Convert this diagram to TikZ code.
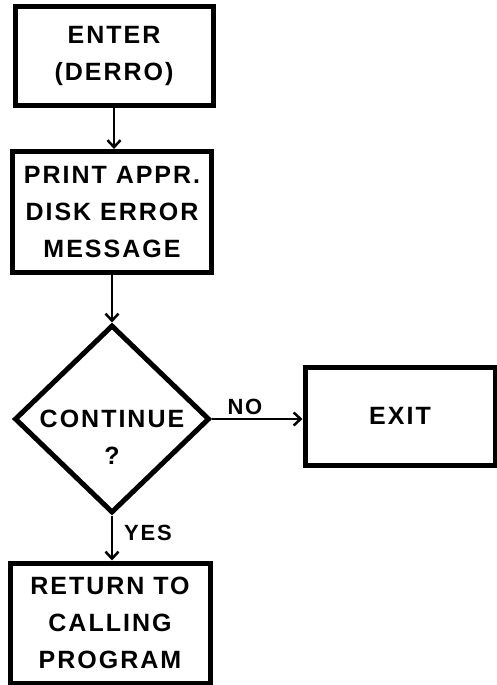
\documentclass[tikz,border=0pt]{standalone}
\usepackage{fontspec}
\setmainfont{Liberation Sans}[LetterSpace=8]
\usetikzlibrary{shapes.geometric,arrows.meta}
\newcommand\boxfont{\fontsize{25}{37}\selectfont\bfseries}
\newcommand\tagfont{\fontsize{22}{25}\selectfont\bfseries}
\begin{document}
\begin{tikzpicture}[x=1pt,y=-1pt,
  box/.style={draw, line width=5pt, inner sep=0pt, align=center, font=\boxfont},
  decision/.style={draw, diamond, line width=5pt, inner sep=0pt, minimum width=195pt, minimum height=188pt},
  link/.style={line width=2.5pt, -{Straight Barb[length=7pt,width=13pt,line width=2.5pt]}},
  tag/.style={font=\tagfont}]
\useasboundingbox[fill=white] (0,0) rectangle (496,685);
\node[box, minimum width=198pt, minimum height=99pt] (enter) at (114,56) {ENTER\\(DERRO)};
\node[box, minimum width=199pt, minimum height=121pt] (print) at (112,212) {PRINT APPR.\\DISK ERROR\\MESSAGE};
\node[decision] (cont) at (112,419) {};
\node[font=\boxfont, align=center] (contq) at (112,437) {CONTINUE\\?};
\node[box, minimum width=190pt, minimum height=98pt] (exit) at (400,416) {EXIT};
\node[box, minimum width=200pt, minimum height=120pt] (ret) at (110,623) {RETURN TO\\CALLING\\PROGRAM};
\node[tag] (no) at (245,407) {NO};
\node[tag] (yes) at (148,533) {YES};
\draw[link] (enter.south) -- (enter.south |- print.north);
\draw[link] (print.south) -- (cont.north);
\draw[link] (cont.east) -- (cont.east -| exit.west);
\draw[link] (cont.south) -- (cont.south |- ret.north);
\end{tikzpicture}
\end{document}
